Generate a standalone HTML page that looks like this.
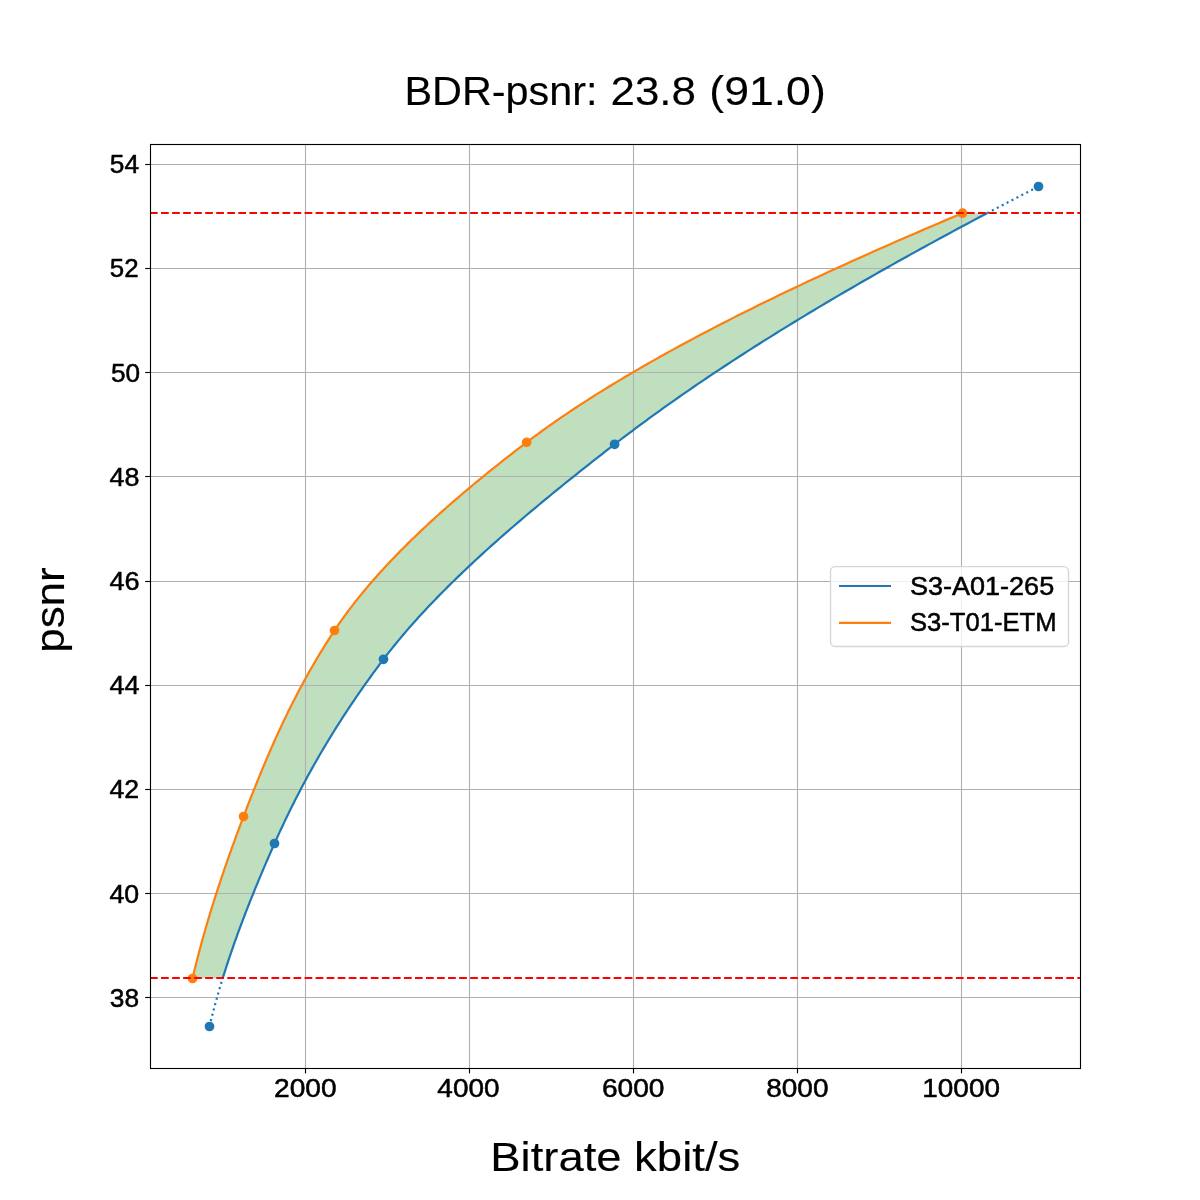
<!DOCTYPE html>
<html><head><meta charset="utf-8"><title>BDR-psnr</title>
<style>html,body{margin:0;padding:0;background:#fff;overflow:hidden}svg{display:block;will-change:transform}text{font-family:"Liberation Sans",sans-serif;fill:#000;stroke:#000;stroke-width:0.5px}.big{stroke-width:0.12px}</style></head>
<body>
<svg width="1200" height="1200" viewBox="0 0 1200 1200">
<rect x="0" y="0" width="1200" height="1200" fill="#fff"/>
<path d="M192.50 978.50 L193.10 975.94 L193.71 973.38 L194.33 970.82 L194.96 968.26 L195.59 965.70 L196.23 963.14 L196.88 960.58 L197.54 958.02 L198.20 955.46 L198.87 952.90 L199.55 950.35 L200.23 947.79 L200.93 945.23 L201.62 942.67 L202.33 940.11 L203.04 937.55 L203.76 934.99 L204.49 932.43 L205.22 929.87 L205.96 927.31 L206.71 924.75 L207.46 922.19 L208.22 919.63 L208.98 917.07 L209.76 914.51 L210.53 911.95 L211.32 909.39 L212.11 906.83 L212.91 904.27 L213.71 901.71 L214.52 899.15 L215.33 896.59 L216.15 894.04 L216.98 891.48 L217.81 888.92 L218.65 886.36 L219.50 883.80 L220.35 881.24 L221.20 878.68 L222.06 876.12 L222.93 873.56 L223.80 871.00 L224.68 868.44 L225.56 865.88 L226.45 863.32 L227.34 860.76 L228.24 858.20 L229.14 855.64 L230.05 853.08 L230.97 850.52 L231.88 847.96 L232.81 845.40 L233.73 842.84 L234.67 840.29 L235.60 837.73 L236.55 835.17 L237.49 832.61 L238.44 830.05 L239.40 827.49 L240.36 824.93 L241.32 822.37 L242.29 819.81 L243.26 817.25 L244.24 814.69 L245.22 812.13 L246.20 809.57 L247.19 807.01 L248.18 804.45 L249.18 801.89 L250.17 799.33 L251.18 796.77 L252.19 794.21 L253.20 791.65 L254.21 789.09 L255.24 786.54 L256.26 783.98 L257.30 781.42 L258.33 778.86 L259.38 776.30 L260.43 773.74 L261.49 771.18 L262.55 768.62 L263.62 766.06 L264.69 763.50 L265.78 760.94 L266.87 758.38 L267.96 755.82 L269.07 753.26 L270.18 750.70 L271.30 748.14 L272.43 745.58 L273.57 743.02 L274.71 740.46 L275.86 737.90 L277.03 735.34 L278.20 732.78 L279.38 730.23 L280.57 727.67 L281.77 725.11 L282.98 722.55 L284.20 719.99 L285.43 717.43 L286.67 714.87 L287.92 712.31 L289.18 709.75 L290.45 707.19 L291.73 704.63 L293.02 702.07 L294.33 699.51 L295.65 696.95 L296.97 694.39 L298.31 691.83 L299.67 689.27 L301.03 686.71 L302.41 684.15 L303.80 681.59 L305.20 679.03 L306.62 676.48 L308.05 673.92 L309.49 671.36 L310.95 668.80 L312.42 666.24 L313.90 663.68 L315.40 661.12 L316.92 658.56 L318.44 656.00 L319.99 653.44 L321.54 650.88 L323.12 648.32 L324.70 645.76 L326.31 643.20 L327.93 640.64 L329.56 638.08 L331.21 635.52 L332.88 632.96 L334.56 630.40 L336.27 627.84 L338.01 625.28 L339.77 622.73 L341.57 620.17 L343.39 617.61 L345.25 615.05 L347.13 612.49 L349.04 609.93 L350.98 607.37 L352.94 604.81 L354.94 602.25 L356.96 599.69 L359.01 597.13 L361.08 594.57 L363.19 592.01 L365.32 589.45 L367.47 586.89 L369.66 584.33 L371.87 581.77 L374.10 579.21 L376.36 576.65 L378.65 574.09 L380.97 571.53 L383.30 568.97 L385.67 566.42 L388.06 563.86 L390.47 561.30 L392.91 558.74 L395.37 556.18 L397.86 553.62 L400.37 551.06 L402.90 548.50 L405.46 545.94 L408.04 543.38 L410.65 540.82 L413.28 538.26 L415.93 535.70 L418.60 533.14 L421.30 530.58 L424.02 528.02 L426.76 525.46 L429.52 522.90 L432.31 520.34 L435.11 517.78 L437.94 515.22 L440.79 512.67 L443.66 510.11 L446.55 507.55 L449.46 504.99 L452.40 502.43 L455.35 499.87 L458.32 497.31 L461.32 494.75 L464.33 492.19 L467.36 489.63 L470.41 487.07 L473.48 484.51 L476.57 481.95 L479.68 479.39 L482.81 476.83 L485.96 474.27 L489.12 471.71 L492.30 469.15 L495.50 466.59 L498.72 464.03 L501.96 461.47 L505.21 458.92 L508.48 456.36 L511.76 453.80 L515.07 451.24 L518.39 448.68 L521.73 446.12 L525.08 443.56 L528.45 441.00 L531.86 438.44 L535.31 435.88 L538.79 433.32 L542.32 430.76 L545.88 428.20 L549.49 425.64 L553.13 423.08 L556.81 420.52 L560.52 417.96 L564.28 415.40 L568.07 412.84 L571.89 410.28 L575.76 407.72 L579.66 405.16 L583.60 402.61 L587.57 400.05 L591.58 397.49 L595.63 394.93 L599.71 392.37 L603.83 389.81 L607.98 387.25 L612.17 384.69 L616.39 382.13 L620.65 379.57 L624.94 377.01 L629.27 374.45 L633.63 371.89 L638.02 369.33 L642.45 366.77 L646.91 364.21 L651.41 361.65 L655.94 359.09 L660.50 356.53 L665.09 353.97 L669.72 351.41 L674.38 348.86 L679.07 346.30 L683.79 343.74 L688.55 341.18 L693.33 338.62 L698.15 336.06 L703.00 333.50 L707.88 330.94 L712.79 328.38 L717.73 325.82 L722.71 323.26 L727.71 320.70 L732.74 318.14 L737.80 315.58 L742.89 313.02 L748.01 310.46 L753.17 307.90 L758.34 305.34 L763.55 302.78 L768.79 300.22 L774.06 297.66 L779.35 295.11 L784.67 292.55 L790.02 289.99 L795.40 287.43 L800.80 284.87 L806.23 282.31 L811.69 279.75 L817.18 277.19 L822.69 274.63 L828.23 272.07 L833.80 269.51 L839.39 266.95 L845.01 264.39 L850.65 261.83 L856.32 259.27 L862.01 256.71 L867.73 254.15 L873.48 251.59 L879.25 249.03 L885.04 246.47 L890.86 243.91 L896.70 241.35 L902.57 238.80 L908.46 236.24 L914.37 233.68 L920.31 231.12 L926.27 228.56 L932.25 226.00 L938.25 223.44 L944.28 220.88 L950.33 218.32 L956.41 215.76 L962.50 213.20 L987.06 213.20 L982.21 215.76 L977.38 218.32 L972.55 220.88 L967.75 223.44 L962.95 226.00 L958.18 228.56 L953.41 231.12 L948.66 233.68 L943.93 236.24 L939.21 238.80 L934.51 241.35 L929.82 243.91 L925.15 246.47 L920.49 249.03 L915.84 251.59 L911.22 254.15 L906.60 256.71 L902.01 259.27 L897.42 261.83 L892.86 264.39 L888.31 266.95 L883.77 269.51 L879.25 272.07 L874.75 274.63 L870.26 277.19 L865.79 279.75 L861.33 282.31 L856.89 284.87 L852.47 287.43 L848.06 289.99 L843.67 292.55 L839.29 295.11 L834.94 297.66 L830.59 300.22 L826.27 302.78 L821.96 305.34 L817.66 307.90 L813.39 310.46 L809.13 313.02 L804.89 315.58 L800.66 318.14 L796.45 320.70 L792.26 323.26 L788.08 325.82 L783.93 328.38 L779.79 330.94 L775.66 333.50 L771.56 336.06 L767.47 338.62 L763.40 341.18 L759.34 343.74 L755.31 346.30 L751.29 348.86 L747.29 351.41 L743.30 353.97 L739.34 356.53 L735.39 359.09 L731.46 361.65 L727.55 364.21 L723.65 366.77 L719.78 369.33 L715.92 371.89 L712.08 374.45 L708.26 377.01 L704.46 379.57 L700.68 382.13 L696.91 384.69 L693.16 387.25 L689.44 389.81 L685.73 392.37 L682.04 394.93 L678.36 397.49 L674.71 400.05 L671.08 402.61 L667.46 405.16 L663.86 407.72 L660.29 410.28 L656.73 412.84 L653.19 415.40 L649.67 417.96 L646.17 420.52 L642.69 423.08 L639.23 425.64 L635.79 428.20 L632.37 430.76 L628.97 433.32 L625.59 435.88 L622.22 438.44 L618.88 441.00 L615.56 443.56 L612.25 446.12 L608.96 448.68 L605.67 451.24 L602.38 453.80 L599.11 456.36 L595.84 458.92 L592.58 461.47 L589.34 464.03 L586.09 466.59 L582.86 469.15 L579.64 471.71 L576.43 474.27 L573.22 476.83 L570.03 479.39 L566.85 481.95 L563.67 484.51 L560.51 487.07 L557.36 489.63 L554.22 492.19 L551.09 494.75 L547.97 497.31 L544.86 499.87 L541.77 502.43 L538.69 504.99 L535.62 507.55 L532.56 510.11 L529.51 512.67 L526.48 515.22 L523.46 517.78 L520.46 520.34 L517.46 522.90 L514.49 525.46 L511.52 528.02 L508.57 530.58 L505.64 533.14 L502.72 535.70 L499.81 538.26 L496.92 540.82 L494.04 543.38 L491.18 545.94 L488.34 548.50 L485.51 551.06 L482.70 553.62 L479.90 556.18 L477.12 558.74 L474.36 561.30 L471.62 563.86 L468.89 566.42 L466.18 568.97 L463.49 571.53 L460.81 574.09 L458.16 576.65 L455.52 579.21 L452.90 581.77 L450.30 584.33 L447.72 586.89 L445.16 589.45 L442.61 592.01 L440.09 594.57 L437.59 597.13 L435.11 599.69 L432.64 602.25 L430.20 604.81 L427.78 607.37 L425.38 609.93 L423.00 612.49 L420.64 615.05 L418.31 617.61 L415.99 620.17 L413.70 622.73 L411.43 625.28 L409.19 627.84 L406.96 630.40 L404.76 632.96 L402.58 635.52 L400.43 638.08 L398.30 640.64 L396.19 643.20 L394.11 645.76 L392.05 648.32 L390.02 650.88 L388.01 653.44 L386.02 656.00 L384.06 658.56 L382.13 661.12 L380.20 663.68 L378.29 666.24 L376.39 668.80 L374.51 671.36 L372.64 673.92 L370.78 676.48 L368.93 679.03 L367.10 681.59 L365.28 684.15 L363.47 686.71 L361.67 689.27 L359.89 691.83 L358.12 694.39 L356.36 696.95 L354.61 699.51 L352.88 702.07 L351.16 704.63 L349.45 707.19 L347.75 709.75 L346.06 712.31 L344.39 714.87 L342.73 717.43 L341.08 719.99 L339.44 722.55 L337.81 725.11 L336.20 727.67 L334.60 730.23 L333.00 732.78 L331.42 735.34 L329.86 737.90 L328.30 740.46 L326.75 743.02 L325.22 745.58 L323.70 748.14 L322.18 750.70 L320.68 753.26 L319.19 755.82 L317.72 758.38 L316.25 760.94 L314.79 763.50 L313.35 766.06 L311.91 768.62 L310.49 771.18 L309.08 773.74 L307.67 776.30 L306.28 778.86 L304.90 781.42 L303.53 783.98 L302.17 786.54 L300.82 789.09 L299.48 791.65 L298.15 794.21 L296.83 796.77 L295.52 799.33 L294.23 801.89 L292.94 804.45 L291.66 807.01 L290.39 809.57 L289.13 812.13 L287.88 814.69 L286.65 817.25 L285.42 819.81 L284.20 822.37 L282.99 824.93 L281.79 827.49 L280.60 830.05 L279.42 832.61 L278.25 835.17 L277.09 837.73 L275.93 840.29 L274.79 842.84 L273.66 845.40 L272.53 847.96 L271.40 850.52 L270.28 853.08 L269.16 855.64 L268.05 858.20 L266.94 860.76 L265.84 863.32 L264.74 865.88 L263.65 868.44 L262.56 871.00 L261.48 873.56 L260.40 876.12 L259.33 878.68 L258.26 881.24 L257.20 883.80 L256.14 886.36 L255.09 888.92 L254.05 891.48 L253.01 894.04 L251.98 896.59 L250.96 899.15 L249.94 901.71 L248.92 904.27 L247.92 906.83 L246.91 909.39 L245.92 911.95 L244.93 914.51 L243.95 917.07 L242.98 919.63 L242.01 922.19 L241.05 924.75 L240.10 927.31 L239.15 929.87 L238.21 932.43 L237.28 934.99 L236.36 937.55 L235.44 940.11 L234.53 942.67 L233.63 945.23 L232.74 947.79 L231.85 950.35 L230.97 952.90 L230.10 955.46 L229.24 958.02 L228.39 960.58 L227.54 963.14 L226.70 965.70 L225.87 968.26 L225.05 970.82 L224.24 973.38 L223.44 975.94 L222.65 978.50 Z" fill="#008000" fill-opacity="0.25" stroke="none"/>
<g stroke="#b0b0b0" stroke-width="1.11" fill="none"><line x1="305.5" y1="144" x2="305.5" y2="1068"/><line x1="469.5" y1="144" x2="469.5" y2="1068"/><line x1="633.5" y1="144" x2="633.5" y2="1068"/><line x1="797.5" y1="144" x2="797.5" y2="1068"/><line x1="961.5" y1="144" x2="961.5" y2="1068"/><line x1="150" y1="164.5" x2="1080" y2="164.5"/><line x1="150" y1="268.5" x2="1080" y2="268.5"/><line x1="150" y1="372.5" x2="1080" y2="372.5"/><line x1="150" y1="476.5" x2="1080" y2="476.5"/><line x1="150" y1="581.5" x2="1080" y2="581.5"/><line x1="150" y1="685.5" x2="1080" y2="685.5"/><line x1="150" y1="789.5" x2="1080" y2="789.5"/><line x1="150" y1="893.5" x2="1080" y2="893.5"/><line x1="150" y1="997.5" x2="1080" y2="997.5"/></g>
<path d="M222.65 978.50 L223.44 975.94 L224.24 973.38 L225.05 970.82 L225.87 968.26 L226.70 965.70 L227.54 963.14 L228.39 960.58 L229.24 958.02 L230.10 955.46 L230.97 952.90 L231.85 950.35 L232.74 947.79 L233.63 945.23 L234.53 942.67 L235.44 940.11 L236.36 937.55 L237.28 934.99 L238.21 932.43 L239.15 929.87 L240.10 927.31 L241.05 924.75 L242.01 922.19 L242.98 919.63 L243.95 917.07 L244.93 914.51 L245.92 911.95 L246.91 909.39 L247.92 906.83 L248.92 904.27 L249.94 901.71 L250.96 899.15 L251.98 896.59 L253.01 894.04 L254.05 891.48 L255.09 888.92 L256.14 886.36 L257.20 883.80 L258.26 881.24 L259.33 878.68 L260.40 876.12 L261.48 873.56 L262.56 871.00 L263.65 868.44 L264.74 865.88 L265.84 863.32 L266.94 860.76 L268.05 858.20 L269.16 855.64 L270.28 853.08 L271.40 850.52 L272.53 847.96 L273.66 845.40 L274.79 842.84 L275.93 840.29 L277.09 837.73 L278.25 835.17 L279.42 832.61 L280.60 830.05 L281.79 827.49 L282.99 824.93 L284.20 822.37 L285.42 819.81 L286.65 817.25 L287.88 814.69 L289.13 812.13 L290.39 809.57 L291.66 807.01 L292.94 804.45 L294.23 801.89 L295.52 799.33 L296.83 796.77 L298.15 794.21 L299.48 791.65 L300.82 789.09 L302.17 786.54 L303.53 783.98 L304.90 781.42 L306.28 778.86 L307.67 776.30 L309.08 773.74 L310.49 771.18 L311.91 768.62 L313.35 766.06 L314.79 763.50 L316.25 760.94 L317.72 758.38 L319.19 755.82 L320.68 753.26 L322.18 750.70 L323.70 748.14 L325.22 745.58 L326.75 743.02 L328.30 740.46 L329.86 737.90 L331.42 735.34 L333.00 732.78 L334.60 730.23 L336.20 727.67 L337.81 725.11 L339.44 722.55 L341.08 719.99 L342.73 717.43 L344.39 714.87 L346.06 712.31 L347.75 709.75 L349.45 707.19 L351.16 704.63 L352.88 702.07 L354.61 699.51 L356.36 696.95 L358.12 694.39 L359.89 691.83 L361.67 689.27 L363.47 686.71 L365.28 684.15 L367.10 681.59 L368.93 679.03 L370.78 676.48 L372.64 673.92 L374.51 671.36 L376.39 668.80 L378.29 666.24 L380.20 663.68 L382.13 661.12 L384.06 658.56 L386.02 656.00 L388.01 653.44 L390.02 650.88 L392.05 648.32 L394.11 645.76 L396.19 643.20 L398.30 640.64 L400.43 638.08 L402.58 635.52 L404.76 632.96 L406.96 630.40 L409.19 627.84 L411.43 625.28 L413.70 622.73 L415.99 620.17 L418.31 617.61 L420.64 615.05 L423.00 612.49 L425.38 609.93 L427.78 607.37 L430.20 604.81 L432.64 602.25 L435.11 599.69 L437.59 597.13 L440.09 594.57 L442.61 592.01 L445.16 589.45 L447.72 586.89 L450.30 584.33 L452.90 581.77 L455.52 579.21 L458.16 576.65 L460.81 574.09 L463.49 571.53 L466.18 568.97 L468.89 566.42 L471.62 563.86 L474.36 561.30 L477.12 558.74 L479.90 556.18 L482.70 553.62 L485.51 551.06 L488.34 548.50 L491.18 545.94 L494.04 543.38 L496.92 540.82 L499.81 538.26 L502.72 535.70 L505.64 533.14 L508.57 530.58 L511.52 528.02 L514.49 525.46 L517.46 522.90 L520.46 520.34 L523.46 517.78 L526.48 515.22 L529.51 512.67 L532.56 510.11 L535.62 507.55 L538.69 504.99 L541.77 502.43 L544.86 499.87 L547.97 497.31 L551.09 494.75 L554.22 492.19 L557.36 489.63 L560.51 487.07 L563.67 484.51 L566.85 481.95 L570.03 479.39 L573.22 476.83 L576.43 474.27 L579.64 471.71 L582.86 469.15 L586.09 466.59 L589.34 464.03 L592.58 461.47 L595.84 458.92 L599.11 456.36 L602.38 453.80 L605.67 451.24 L608.96 448.68 L612.25 446.12 L615.56 443.56 L618.88 441.00 L622.22 438.44 L625.59 435.88 L628.97 433.32 L632.37 430.76 L635.79 428.20 L639.23 425.64 L642.69 423.08 L646.17 420.52 L649.67 417.96 L653.19 415.40 L656.73 412.84 L660.29 410.28 L663.86 407.72 L667.46 405.16 L671.08 402.61 L674.71 400.05 L678.36 397.49 L682.04 394.93 L685.73 392.37 L689.44 389.81 L693.16 387.25 L696.91 384.69 L700.68 382.13 L704.46 379.57 L708.26 377.01 L712.08 374.45 L715.92 371.89 L719.78 369.33 L723.65 366.77 L727.55 364.21 L731.46 361.65 L735.39 359.09 L739.34 356.53 L743.30 353.97 L747.29 351.41 L751.29 348.86 L755.31 346.30 L759.34 343.74 L763.40 341.18 L767.47 338.62 L771.56 336.06 L775.66 333.50 L779.79 330.94 L783.93 328.38 L788.08 325.82 L792.26 323.26 L796.45 320.70 L800.66 318.14 L804.89 315.58 L809.13 313.02 L813.39 310.46 L817.66 307.90 L821.96 305.34 L826.27 302.78 L830.59 300.22 L834.94 297.66 L839.29 295.11 L843.67 292.55 L848.06 289.99 L852.47 287.43 L856.89 284.87 L861.33 282.31 L865.79 279.75 L870.26 277.19 L874.75 274.63 L879.25 272.07 L883.77 269.51 L888.31 266.95 L892.86 264.39 L897.42 261.83 L902.01 259.27 L906.60 256.71 L911.22 254.15 L915.84 251.59 L920.49 249.03 L925.15 246.47 L929.82 243.91 L934.51 241.35 L939.21 238.80 L943.93 236.24 L948.66 233.68 L953.41 231.12 L958.18 228.56 L962.95 226.00 L967.75 223.44 L972.55 220.88 L977.38 218.32 L982.21 215.76 L987.06 213.20" stroke="#1f77b4" stroke-width="2.2" fill="none" stroke-linecap="butt" stroke-linejoin="round"/>
<path d="M209.50 1026.50 L209.79 1025.27 L210.09 1024.04 L210.39 1022.81 L210.69 1021.58 L210.99 1020.35 L211.30 1019.12 L211.60 1017.88 L211.91 1016.65 L212.23 1015.42 L212.54 1014.19 L212.86 1012.96 L213.18 1011.73 L213.50 1010.50 L213.82 1009.27 L214.15 1008.04 L214.48 1006.81 L214.81 1005.58 L215.14 1004.35 L215.48 1003.12 L215.82 1001.88 L216.16 1000.65 L216.50 999.42 L216.84 998.19 L217.19 996.96 L217.54 995.73 L217.89 994.50 L218.24 993.27 L218.60 992.04 L218.95 990.81 L219.31 989.58 L219.68 988.35 L220.04 987.12 L220.41 985.88 L220.77 984.65 L221.14 983.42 L221.52 982.19 L221.89 980.96 L222.27 979.73 L222.65 978.50" stroke="#1f77b4" stroke-width="2.2" fill="none" stroke-dasharray="2.08 3.44"/>
<path d="M987.06 213.20 L988.36 212.52 L989.66 211.83 L990.96 211.15 L992.27 210.46 L993.57 209.78 L994.88 209.09 L996.18 208.41 L997.49 207.72 L998.80 207.04 L1000.11 206.35 L1001.42 205.67 L1002.73 204.98 L1004.04 204.30 L1005.35 203.62 L1006.67 202.93 L1007.98 202.25 L1009.30 201.56 L1010.61 200.88 L1011.93 200.19 L1013.25 199.51 L1014.57 198.82 L1015.89 198.14 L1017.21 197.45 L1018.54 196.77 L1019.86 196.08 L1021.19 195.40 L1022.51 194.72 L1023.84 194.03 L1025.17 193.35 L1026.50 192.66 L1027.83 191.98 L1029.16 191.29 L1030.49 190.61 L1031.82 189.92 L1033.15 189.24 L1034.49 188.55 L1035.83 187.87 L1037.16 187.18 L1038.50 186.50" stroke="#1f77b4" stroke-width="2.2" fill="none" stroke-dasharray="2.08 3.44"/>
<path d="M192.50 978.50 L193.10 975.94 L193.71 973.38 L194.33 970.82 L194.96 968.26 L195.59 965.70 L196.23 963.14 L196.88 960.58 L197.54 958.02 L198.20 955.46 L198.87 952.90 L199.55 950.35 L200.23 947.79 L200.93 945.23 L201.62 942.67 L202.33 940.11 L203.04 937.55 L203.76 934.99 L204.49 932.43 L205.22 929.87 L205.96 927.31 L206.71 924.75 L207.46 922.19 L208.22 919.63 L208.98 917.07 L209.76 914.51 L210.53 911.95 L211.32 909.39 L212.11 906.83 L212.91 904.27 L213.71 901.71 L214.52 899.15 L215.33 896.59 L216.15 894.04 L216.98 891.48 L217.81 888.92 L218.65 886.36 L219.50 883.80 L220.35 881.24 L221.20 878.68 L222.06 876.12 L222.93 873.56 L223.80 871.00 L224.68 868.44 L225.56 865.88 L226.45 863.32 L227.34 860.76 L228.24 858.20 L229.14 855.64 L230.05 853.08 L230.97 850.52 L231.88 847.96 L232.81 845.40 L233.73 842.84 L234.67 840.29 L235.60 837.73 L236.55 835.17 L237.49 832.61 L238.44 830.05 L239.40 827.49 L240.36 824.93 L241.32 822.37 L242.29 819.81 L243.26 817.25 L244.24 814.69 L245.22 812.13 L246.20 809.57 L247.19 807.01 L248.18 804.45 L249.18 801.89 L250.17 799.33 L251.18 796.77 L252.19 794.21 L253.20 791.65 L254.21 789.09 L255.24 786.54 L256.26 783.98 L257.30 781.42 L258.33 778.86 L259.38 776.30 L260.43 773.74 L261.49 771.18 L262.55 768.62 L263.62 766.06 L264.69 763.50 L265.78 760.94 L266.87 758.38 L267.96 755.82 L269.07 753.26 L270.18 750.70 L271.30 748.14 L272.43 745.58 L273.57 743.02 L274.71 740.46 L275.86 737.90 L277.03 735.34 L278.20 732.78 L279.38 730.23 L280.57 727.67 L281.77 725.11 L282.98 722.55 L284.20 719.99 L285.43 717.43 L286.67 714.87 L287.92 712.31 L289.18 709.75 L290.45 707.19 L291.73 704.63 L293.02 702.07 L294.33 699.51 L295.65 696.95 L296.97 694.39 L298.31 691.83 L299.67 689.27 L301.03 686.71 L302.41 684.15 L303.80 681.59 L305.20 679.03 L306.62 676.48 L308.05 673.92 L309.49 671.36 L310.95 668.80 L312.42 666.24 L313.90 663.68 L315.40 661.12 L316.92 658.56 L318.44 656.00 L319.99 653.44 L321.54 650.88 L323.12 648.32 L324.70 645.76 L326.31 643.20 L327.93 640.64 L329.56 638.08 L331.21 635.52 L332.88 632.96 L334.56 630.40 L336.27 627.84 L338.01 625.28 L339.77 622.73 L341.57 620.17 L343.39 617.61 L345.25 615.05 L347.13 612.49 L349.04 609.93 L350.98 607.37 L352.94 604.81 L354.94 602.25 L356.96 599.69 L359.01 597.13 L361.08 594.57 L363.19 592.01 L365.32 589.45 L367.47 586.89 L369.66 584.33 L371.87 581.77 L374.10 579.21 L376.36 576.65 L378.65 574.09 L380.97 571.53 L383.30 568.97 L385.67 566.42 L388.06 563.86 L390.47 561.30 L392.91 558.74 L395.37 556.18 L397.86 553.62 L400.37 551.06 L402.90 548.50 L405.46 545.94 L408.04 543.38 L410.65 540.82 L413.28 538.26 L415.93 535.70 L418.60 533.14 L421.30 530.58 L424.02 528.02 L426.76 525.46 L429.52 522.90 L432.31 520.34 L435.11 517.78 L437.94 515.22 L440.79 512.67 L443.66 510.11 L446.55 507.55 L449.46 504.99 L452.40 502.43 L455.35 499.87 L458.32 497.31 L461.32 494.75 L464.33 492.19 L467.36 489.63 L470.41 487.07 L473.48 484.51 L476.57 481.95 L479.68 479.39 L482.81 476.83 L485.96 474.27 L489.12 471.71 L492.30 469.15 L495.50 466.59 L498.72 464.03 L501.96 461.47 L505.21 458.92 L508.48 456.36 L511.76 453.80 L515.07 451.24 L518.39 448.68 L521.73 446.12 L525.08 443.56 L528.45 441.00 L531.86 438.44 L535.31 435.88 L538.79 433.32 L542.32 430.76 L545.88 428.20 L549.49 425.64 L553.13 423.08 L556.81 420.52 L560.52 417.96 L564.28 415.40 L568.07 412.84 L571.89 410.28 L575.76 407.72 L579.66 405.16 L583.60 402.61 L587.57 400.05 L591.58 397.49 L595.63 394.93 L599.71 392.37 L603.83 389.81 L607.98 387.25 L612.17 384.69 L616.39 382.13 L620.65 379.57 L624.94 377.01 L629.27 374.45 L633.63 371.89 L638.02 369.33 L642.45 366.77 L646.91 364.21 L651.41 361.65 L655.94 359.09 L660.50 356.53 L665.09 353.97 L669.72 351.41 L674.38 348.86 L679.07 346.30 L683.79 343.74 L688.55 341.18 L693.33 338.62 L698.15 336.06 L703.00 333.50 L707.88 330.94 L712.79 328.38 L717.73 325.82 L722.71 323.26 L727.71 320.70 L732.74 318.14 L737.80 315.58 L742.89 313.02 L748.01 310.46 L753.17 307.90 L758.34 305.34 L763.55 302.78 L768.79 300.22 L774.06 297.66 L779.35 295.11 L784.67 292.55 L790.02 289.99 L795.40 287.43 L800.80 284.87 L806.23 282.31 L811.69 279.75 L817.18 277.19 L822.69 274.63 L828.23 272.07 L833.80 269.51 L839.39 266.95 L845.01 264.39 L850.65 261.83 L856.32 259.27 L862.01 256.71 L867.73 254.15 L873.48 251.59 L879.25 249.03 L885.04 246.47 L890.86 243.91 L896.70 241.35 L902.57 238.80 L908.46 236.24 L914.37 233.68 L920.31 231.12 L926.27 228.56 L932.25 226.00 L938.25 223.44 L944.28 220.88 L950.33 218.32 L956.41 215.76 L962.50 213.20" stroke="#ff7f0e" stroke-width="2.2" fill="none" stroke-linejoin="round"/>
<circle cx="209.5" cy="1026.5" r="4.86" fill="#1f77b4"/><circle cx="274.5" cy="843.5" r="4.86" fill="#1f77b4"/><circle cx="383.5" cy="659.3" r="4.86" fill="#1f77b4"/><circle cx="614.6" cy="444.3" r="4.86" fill="#1f77b4"/><circle cx="1038.5" cy="186.5" r="4.86" fill="#1f77b4"/><circle cx="192.5" cy="978.5" r="4.86" fill="#ff7f0e"/><circle cx="243.55" cy="816.5" r="4.86" fill="#ff7f0e"/><circle cx="334.5" cy="630.5" r="4.86" fill="#ff7f0e"/><circle cx="526.6" cy="442.4" r="4.86" fill="#ff7f0e"/><circle cx="962.5" cy="213.2" r="4.86" fill="#ff7f0e"/>
<g stroke="#ff0000" stroke-width="2.083" stroke-dasharray="7.71 3.33" fill="none"><line x1="150" y1="213.0" x2="1080" y2="213.0"/><line x1="150" y1="978.0" x2="1080" y2="978.0"/></g>
<rect x="150.5" y="144.5" width="930" height="924" fill="none" stroke="#000" stroke-width="1.11"/>
<g stroke="#000" stroke-width="1.11"><line x1="305.5" y1="1068.5" x2="305.5" y2="1073.4"/><line x1="469.5" y1="1068.5" x2="469.5" y2="1073.4"/><line x1="633.5" y1="1068.5" x2="633.5" y2="1073.4"/><line x1="797.5" y1="1068.5" x2="797.5" y2="1073.4"/><line x1="961.5" y1="1068.5" x2="961.5" y2="1073.4"/><line x1="145.2" y1="164.5" x2="150.5" y2="164.5"/><line x1="145.2" y1="268.5" x2="150.5" y2="268.5"/><line x1="145.2" y1="372.5" x2="150.5" y2="372.5"/><line x1="145.2" y1="476.5" x2="150.5" y2="476.5"/><line x1="145.2" y1="581.5" x2="150.5" y2="581.5"/><line x1="145.2" y1="685.5" x2="150.5" y2="685.5"/><line x1="145.2" y1="789.5" x2="150.5" y2="789.5"/><line x1="145.2" y1="893.5" x2="150.5" y2="893.5"/><line x1="145.2" y1="997.5" x2="150.5" y2="997.5"/></g>
<text transform="translate(273.99 1096.6) scale(1.1090 1)" font-size="25.4">2000</text><text transform="translate(437.34 1096.6) scale(1.1009 1)" font-size="25.4">4000</text><text transform="translate(601.89 1096.6) scale(1.1090 1)" font-size="25.4">6000</text><text transform="translate(766.18 1096.6) scale(1.1038 1)" font-size="25.4">8000</text><text transform="translate(922.26 1096.6) scale(1.1012 1)" font-size="25.4">10000</text><text transform="translate(109.85 172.8) scale(1.0354 1)" font-size="25.4">54</text><text transform="translate(109.86 276.8) scale(1.0190 1)" font-size="25.4">52</text><text transform="translate(110.95 381.6) scale(1.0320 1)" font-size="25.4">50</text><text transform="translate(109.46 485.6) scale(1.0592 1)" font-size="25.4">48</text><text transform="translate(109.46 589.8) scale(1.0686 1)" font-size="25.4">46</text><text transform="translate(109.46 693.6) scale(1.0678 1)" font-size="25.4">44</text><text transform="translate(109.47 797.6) scale(1.0486 1)" font-size="25.4">42</text><text transform="translate(109.46 902.7) scale(1.0536 1)" font-size="25.4">40</text><text transform="translate(109.85 1006.7) scale(1.0359 1)" font-size="25.4">38</text>
<text class="big" transform="translate(404.39 105) scale(1.0098 1)" font-size="41">BDR-psnr:</text>
<text class="big" transform="translate(610.5 105) scale(1.0719 1)" font-size="41">23.8</text>
<text class="big" transform="translate(709.33 105) scale(1.0873 1)" font-size="41">(91.0)</text>
<text class="big" transform="translate(490.26 1170.8) scale(1.1086 1)" font-size="41">Bitrate</text>
<text class="big" transform="translate(634.12 1170.8) scale(1.1096 1)" font-size="41">kbit/s</text>
<text transform="translate(64.3 652.77) rotate(-90) scale(1.0713 1)" font-size="41" class="big">psnr</text>
<rect x="830.5" y="566.6" width="238" height="79.9" rx="4.8" ry="4.8" fill="#fff" fill-opacity="0.8" stroke="#cccccc" stroke-opacity="0.8" stroke-width="1.39"/>
<line x1="839" y1="586" x2="891" y2="586" stroke="#1f77b4" stroke-width="2.2"/>
<line x1="839" y1="622.9" x2="891" y2="622.9" stroke="#ff7f0e" stroke-width="2.2"/>
<text transform="translate(909.9 594.9) scale(1.0650 1)" font-size="25.4">S3-A01-265</text>
<text transform="translate(909.97 630.7) scale(1.0082 1)" font-size="25.4">S3-T01-ETM</text>
</svg>
</body></html>
